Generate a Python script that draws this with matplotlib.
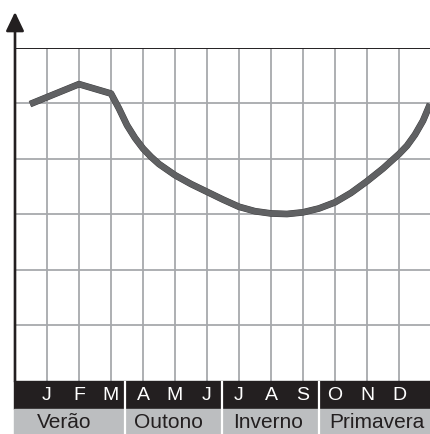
import matplotlib
matplotlib.use("Agg")
import matplotlib.pyplot as plt
import matplotlib.patches as patches
import matplotlib.patheffects as pe

plt.rcParams['font.family'] = ['Liberation Sans', 'DejaVu Sans']

# data
months = ['J', 'F', 'M', 'A', 'M', 'J', 'J', 'A', 'S', 'O', 'N', 'D']
seasons = ['Verão', 'Outono', 'Inverno', 'Primavera']
season_pos = [1.53, 4.8, 7.92, 11.3]
season_breaks = [3.45, 6.47, 9.5]
curve_x = [0.47, 2, 3, 3.25, 3.5, 3.75, 4, 4.25, 4.5, 5, 5.5, 6, 6.5, 7, 7.5, 8,
           8.5, 9, 9.5, 10, 10.5, 11, 11.5, 12, 12.25, 12.5, 12.75, 12.97]
curve_y = [4.98, 5.34, 5.17, 4.90, 4.60, 4.37, 4.18, 4.03, 3.90, 3.70, 3.54, 3.40,
           3.26, 3.13, 3.05, 3.01, 3.00, 3.03, 3.10, 3.21, 3.38, 3.59, 3.82, 4.08,
           4.23, 4.43, 4.68, 4.98]

W, H = 430, 434
fig = plt.figure(figsize=(W / 100, H / 100), dpi=100)
ax = fig.add_axes([15 / W, 1 - 380.5 / H, 416 / W, 333 / H])
ax.set_xlim(0, 13)
ax.set_ylim(0, 6)
ax.axis('off')

grid_col = '#a7a9ac'
dark = '#231f20'

# grid
for i in range(1, 14):
    ax.axvline(i, color=grid_col, lw=1.3, zorder=1)
for j in range(1, 6):
    ax.axhline(j, color=grid_col, lw=1.3, zorder=1)
ax.axhline(6, color=dark, lw=1.4, zorder=2)

# y axis with arrow
ax.annotate('', xy=(0, 6.64), xytext=(0, -0.02),
            arrowprops=dict(arrowstyle='-|>,head_length=1.15,head_width=0.55',
                            lw=1.9, color=dark, shrinkA=0, shrinkB=0),
            annotation_clip=False, zorder=5)

# curve
ax.plot(curve_x, curve_y, color='#606163', lw=4.2, solid_joinstyle='round',
        solid_capstyle='butt', zorder=4,
        path_effects=[pe.Stroke(linewidth=4.8, foreground='#3e3e40'), pe.Normal()])

# bottom bands
band_black = (-0.514, 0)
band_gray = (-0.97, -0.514)
ax.add_patch(patches.Rectangle((-0.03, band_black[0]), 13.1, band_black[1] - band_black[0],
                               color=dark, clip_on=False, zorder=3))
ax.add_patch(patches.Rectangle((-0.03, band_gray[0]), 13.1, band_gray[1] - band_gray[0],
                               color='#bcbec0', clip_on=False, zorder=3))
for b in season_breaks:
    ax.plot([b, b], [band_gray[0], -0.03], color='white', lw=1.6,
            clip_on=False, zorder=4)

for i, m in enumerate(months):
    ax.text(i + 1, -0.265, m, color='white', fontsize=14, ha='center', va='center',
            zorder=5)
for s, x in zip(seasons, season_pos):
    ax.text(x, -0.75, s, color=dark, fontsize=15, ha='center', va='center', zorder=5)

fig.savefig('out.png', dpi=100)
